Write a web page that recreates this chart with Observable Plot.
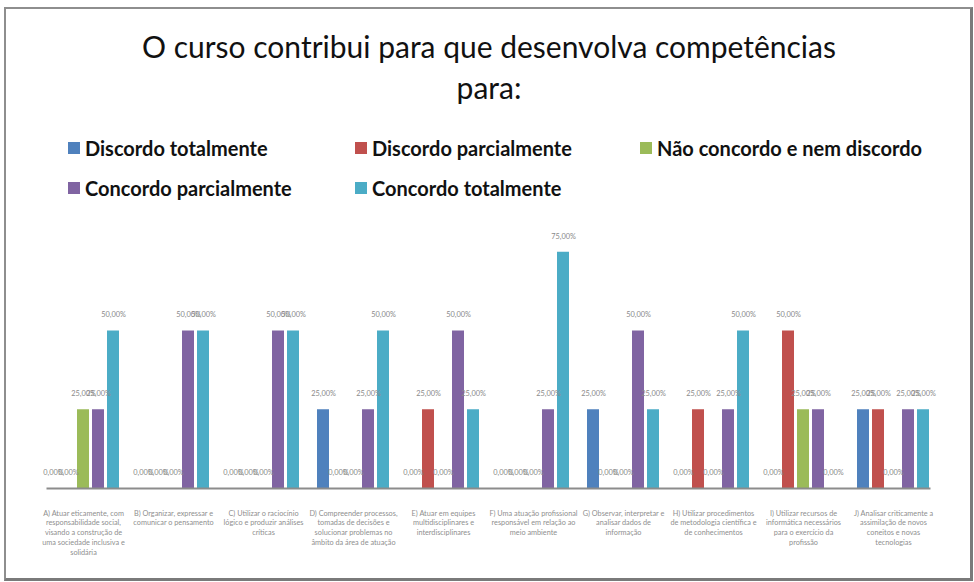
<!DOCTYPE html>
<html><head><meta charset="utf-8">
<script src="https://cdn.jsdelivr.net/npm/d3@7"></script>
<script src="https://cdn.jsdelivr.net/npm/@observablehq/plot@0.6"></script>
<style>
html,body{margin:0;padding:0;background:#fff;}
#wrap{position:relative;width:974px;height:582px;overflow:hidden;font-family:Lato,"Open Sans",sans-serif;}
#frame{position:absolute;left:4px;top:7px;width:964px;height:569px;border:2px solid #8e8e8e;border-right:3px solid #7a7a7a;border-bottom:3px solid #7a7a7a;}
#title{position:absolute;left:0;top:26px;width:978px;text-align:center;font-size:30px;line-height:41px;color:#111;}
#legend{position:absolute;left:0;top:0;width:974px;height:210px;}
.item{position:absolute;display:flex;align-items:center;font-size:20px;font-weight:bold;color:#111;height:24px;white-space:nowrap;}
.sw{width:12px;height:12px;margin-right:5px;}
#chart{position:absolute;left:0;top:220px;}
</style></head>
<body>
<div id="wrap">
<div id="frame"></div>
<div id="title">O curso contribui para que desenvolva competências<br>para:</div>
<div id="legend"></div>
<div id="chart"></div>
</div>
<script>
const categories = ["A","B","C","D","E","F","G","H","I","J"];
const categoryLabels = [
  "A) Atuar eticamente, com\nresponsabilidade social,\nvisando a construção de\numa sociedade inclusiva e\nsolidária",
  "B) Organizar, expressar e\ncomunicar o pensamento",
  "C) Utilizar o raciocínio\nlógico e produzir análises\ncríticas",
  "D) Compreender processos,\ntomadas de decisões e\nsolucionar problemas no\nâmbito da área de atuação",
  "E) Atuar em equipes\nmultidisciplinares e\ninterdisciplinares",
  "F) Uma atuação profissional\nresponsável em relação ao\nmeio ambiente",
  "G) Observar, interpretar e\nanalisar dados de\ninformação",
  "H) Utilizar procedimentos\nde metodologia científica e\nde conhecimentos",
  "I) Utilizar recursos de\ninformática necessários\npara o exercício da\nprofissão",
  "J) Analisar criticamente a\nassimilação de novos\nconeitos e novas\ntecnologias"
];
const series = ["Discordo totalmente","Discordo parcialmente","Não concordo e nem discordo","Concordo parcialmente","Concordo totalmente"];
const colors = ["#4F81BD","#C0504D","#9BBB59","#8064A2","#4BACC6"];
const discordoTotalmente     = [0,    0,   0,   0.25, 0,    0,    0.25, 0,    0,    0.25];
const discordoParcialmente   = [0,    0,   0,   0,    0.25, 0,    0,    0.25, 0.5,  0.25];
const naoConcordoNemDiscordo = [0.25, 0,   0,   0,    0,    0,    0,    0,    0.25, 0];
const concordoParcialmente   = [0.25, 0.5, 0.5, 0.25, 0.5,  0.25, 0.5,  0.25, 0.25, 0.25];
const concordoTotalmente     = [0.5,  0.5, 0.5, 0.5,  0.25, 0.75, 0.25, 0.5,  0,    0.25];
const valuesBySeries = [discordoTotalmente, discordoParcialmente, naoConcordoNemDiscordo, concordoParcialmente, concordoTotalmente];

// legend
const legendPos = [[68,136],[355,136],[640,136],[68,176],[355,176]];
const legend = document.getElementById("legend");
series.forEach((s,i)=>{
  const it = document.createElement("div");
  it.className = "item";
  it.style.left = legendPos[i][0]+"px";
  it.style.top = legendPos[i][1]+"px";
  it.innerHTML = `<span class="sw" style="background:${colors[i]}"></span><span>${s}</span>`;
  legend.appendChild(it);
});

const data = categories.flatMap((c,i)=>series.map((s,j)=>({cat:c, series:s, value:valuesBySeries[j][i]})));
const fmt = v => (v*100).toFixed(2).replace(".", ",") + "%";

const chart = Plot.plot({
  width: 974, height: 362,
  marginLeft: 34, marginRight: 32, marginTop: 16, marginBottom: 94,
  style: {fontFamily: "Lato, 'Open Sans', sans-serif", background: "transparent"},
  fx: {domain: categories, paddingInner: 0.2, paddingOuter: 0.1, label: null},
  x: {domain: series, paddingInner: 0.2, paddingOuter: 0, axis: null},
  y: {domain: [0, 0.8], axis: null},
  color: {domain: series, range: colors},
  marks: [
    Plot.barY(data, {fx: "cat", x: "series", y: "value", fill: "series"}),
    Plot.text(data, {fx: "cat", x: "series", y: "value", text: d => fmt(d.value), dy: -16, fontSize: 7.4, fill: "#8a8a8a"}),
    Plot.frame({anchor: "bottom", facet: "super", stroke: "#8c8c8c", strokeWidth: 2}),
    Plot.axisFx({anchor: "bottom", tickSize: 0, tickPadding: 20, fontSize: 7.3, lineHeight: 1.36, fill: "#8f8f8f", label: null,
      tickFormat: c => categoryLabels[categories.indexOf(c)]})
  ]
});
document.getElementById("chart").appendChild(chart);
</script>
</body></html>
